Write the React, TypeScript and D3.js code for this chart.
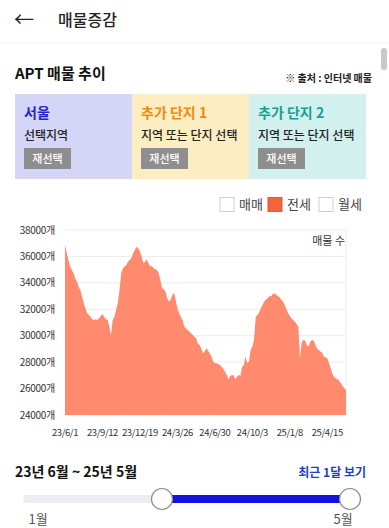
import React from "react";
import { scaleLinear, area, curveLinear } from "d3";

const FONT = "'Noto Sans CJK KR', 'Noto Sans', sans-serif";

// 전세 매물 수 (23/6/1 ~ 25/5)
const jeonseCounts = [
  36870, 36240, 35730, 35230, 34980, 34720, 34340, 34090, 33710, 33460, 32960, 32450, 32070, 31700, 31570,
  31440, 31240, 31190, 31240, 31190, 31320, 31490, 31620, 31440, 31240, 31190, 30690, 30050, 31190,
  31440, 31950, 32450, 33460, 34720, 35100, 35230, 35350, 35600, 35730, 35860, 36240, 36490, 36740, 36620,
  36360, 35980, 35480, 35600, 35780, 35480, 35230, 35280, 35100, 35030, 34980, 34720, 34220, 33590, 33510,
  33330, 32830, 32580, 32700, 33080, 33260, 32700, 32070, 31700, 31440, 31190,
  30690, 30560, 30430, 30310, 30180, 30050, 29930, 29800, 29420, 29300, 29050, 28670, 28800, 29050, 28870,
  28670, 28420, 28040, 27910, 27910, 27860, 27780, 27660, 27480, 27280, 27030, 26700, 26950, 27030, 27000,
  26700, 26900, 27030, 26950, 27660, 27780, 28420, 27910, 28040, 28920, 29170,
  29680, 31440, 31570, 31750, 32070, 32330, 32580, 32750, 32830, 33010, 32960, 33160, 33210, 33080, 33010,
  32910, 32700, 32580, 32330, 32000, 31700, 31490, 31320, 31190, 31060, 30890, 30690, 28290, 29550, 29680,
  29630, 29300, 29170, 29550, 29680, 29630, 29300, 29050, 28920, 28800, 28720,
  28420, 28360, 28290, 27910, 27530, 27100, 26900, 26780, 26700, 26600, 26400, 26200, 26020, 25890,
];

const xTickLabels = ["23/6/1", "23/9/12", "23/12/19", "24/3/26", "24/6/30", "24/10/3", "25/1/8", "25/4/15"];
const tickEvery = 22;
const yDomain = [24000, 38000];

const legendItems = ["매매", "전세", "월세"];
const activeLegend = "전세";

const cardTitles = ["서울", "추가 단지 1", "추가 단지 2"];
const cardSubtitles = ["선택지역", "지역 또는 단지 선택", "지역 또는 단지 선택"];
const cardBg = ["#d5d5f8", "#fdedc2", "#d1f0ee"];
const cardTitleColor = ["#2424c8", "#ee8a12", "#16a096"];

const sliderMonths = [1, 5];
const sliderRange = [2.7, 5];

export default function App() {
  const W = 389;
  const H = 528;
  const plot = { left: 65, right: 346, top: 230, bottom: 415 };

  const x = scaleLinear().domain([0, jeonseCounts.length - 1]).range([plot.left, plot.right]);
  const y = scaleLinear().domain(yDomain).range([plot.bottom, plot.top]);
  const yTicks = y.ticks(7);

  const areaGen = area<number>()
    .x((d, i) => x(i))
    .y0(y(yDomain[0]))
    .y1(d => y(d))
    .curve(curveLinear);

  const cardX = scaleLinear().domain([0, 3]).range([15, 366]);
  const cardW = cardX(1) - cardX(0);

  const sx = scaleLinear().domain(sliderMonths).range([23, 350]);

  const legendX = [220, 268, 319];

  return (
    <svg
      width={W}
      height={H}
      style={{ position: "absolute", left: 0, top: 0, background: "#fff" }}
      fontFamily={FONT}
    >
      {/* header */}
      <text x={14} y={27} fontSize={20} fill="#222">←</text>
      <text x={58} y={26} fontSize={16} fontWeight={500} fill="#222">매물증감</text>
      <line x1={0} x2={W} y1={43} y2={43} stroke="#f3f3f3" />
      <rect x={381} y={48} width={6} height={22} rx={3} fill="#c9c9c9" />

      <text x={15} y={79} fontSize={15} fontWeight={700} fill="#111">APT 매물 추이</text>
      <text x={372} y={82} fontSize={10} fontWeight={700} textAnchor="end" fill="#222">※ 출처 : 인터넷 매물</text>

      {/* region cards */}
      {cardTitles.map((t, i) => {
        const cx = cardX(i);
        return (
          <g key={t}>
            <rect x={cx} y={94} width={cardW} height={85} fill={cardBg[i]} />
            <text x={cx + 9} y={118} fontSize={14} fontWeight={700} fill={cardTitleColor[i]}>{t}</text>
            <text x={cx + 9} y={140} fontSize={12} fontWeight={500} fill="#222">{cardSubtitles[i]}</text>
            <rect x={cx + 9} y={148} width={47} height={21} fill="#8e8e8e" />
            <text x={cx + 32.5} y={162.5} fontSize={11} fontWeight={500} textAnchor="middle" fill="#fff">재선택</text>
          </g>
        );
      })}

      {/* legend */}
      {legendItems.map((l, i) => (
        <g key={l}>
          <rect
            x={legendX[i]}
            y={197.5}
            width={14}
            height={14}
            fill={l === activeLegend ? "#f4623e" : "#fff"}
            stroke={l === activeLegend ? "#e35a38" : "#cfcfcf"}
          />
          <text x={legendX[i] + 19} y={209} fontSize={13} fill="#444">{l}</text>
        </g>
      ))}

      {/* grid */}
      {yTicks.map(t => (
        <line key={t} x1={plot.left} x2={plot.right} y1={y(t)} y2={y(t)} stroke="#ececec" />
      ))}
      <line x1={plot.right} x2={plot.right} y1={plot.top} y2={plot.bottom} stroke="#ececec" />

      <path d={areaGen(jeonseCounts) ?? ""} fill="#ff8a6d" />

      {yTicks.map(t => (
        <text key={t} x={55} y={y(t) + 3.5} fontSize={10} letterSpacing={-0.3} textAnchor="end" fill="#333">
          {t}개
        </text>
      ))}

      {xTickLabels.map((l, i) => (
        <text key={l} x={x(i * tickEvery)} y={436} fontSize={9.5} letterSpacing={-0.4} textAnchor="middle" fill="#333">
          {l}
        </text>
      ))}

      <text x={345} y={245} fontSize={11} textAnchor="end" fill="#333">매물 수</text>

      {/* period */}
      <text x={15} y={477} fontSize={14} fontWeight={700} fill="#111">23년 6월 ~ 25년 5월</text>
      <text x={366} y={477} fontSize={12} fontWeight={700} textAnchor="end" fill="#1f3fc4">최근 1달 보기</text>

      {/* slider */}
      <rect x={23} y={495} width={337} height={8} rx={4} fill="#ededf1" />
      <rect x={sx(sliderRange[0])} y={495} width={sx(sliderRange[1]) - sx(sliderRange[0])} height={8} fill="#1212e0" />
      {sliderRange.map(m => (
        <circle key={m} cx={sx(m)} cy={499} r={10.5} fill="#fff" stroke="#8a8a8a" strokeWidth={1.2} />
      ))}
      <text x={38} y={524} fontSize={13} textAnchor="middle" fill="#555">{sliderMonths[0]}월</text>
      <text x={343} y={524} fontSize={13} textAnchor="middle" fill="#555">{sliderMonths[1]}월</text>
    </svg>
  );
}
